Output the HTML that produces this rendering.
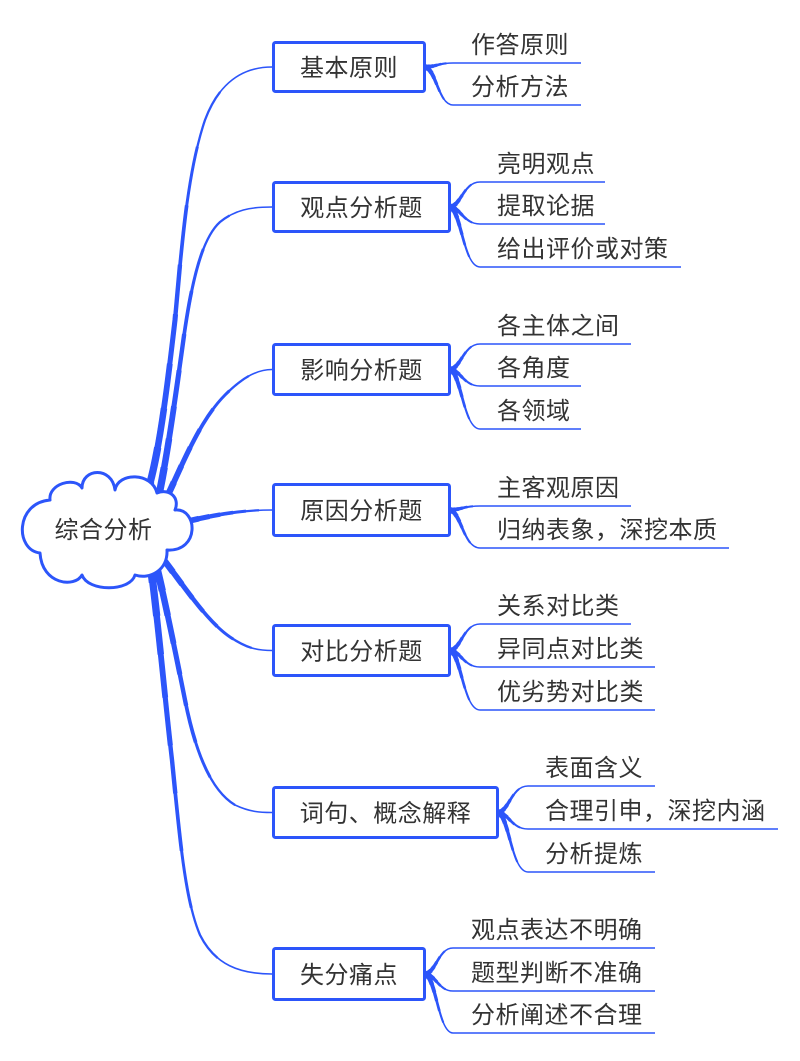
<!DOCTYPE html>
<html><head><meta charset="utf-8">
<style>
html,body{margin:0;padding:0;background:#fff;}
svg{display:block;}
text{font-family:"Liberation Sans","Noto Sans CJK SC",sans-serif;font-size:24px;fill:#333;letter-spacing:0.5px;}
.c path{fill:none;stroke:#2c55fa;stroke-linecap:butt;stroke-linejoin:round;}
.a1{stroke-width:1.6;}
.a2{stroke-width:2.3;stroke-dasharray:88 200;}
.a3{stroke-width:3.0;stroke-dasharray:76 200;}
.a4{stroke-width:3.7;stroke-dasharray:64 200;}
.a5{stroke-width:4.4;stroke-dasharray:52 200;}
.a6{stroke-width:5.1;stroke-dasharray:42 200;}
.a7{stroke-width:5.8;stroke-dasharray:32 200;}
.a8{stroke-width:6.5;stroke-dasharray:23 200;}
.a9{stroke-width:7.3;stroke-dasharray:15 200;}
.a10{stroke-width:8.2;stroke-dasharray:8 200;}
.b1{stroke-width:1.5;}
.b2{stroke-width:2.1;stroke-dasharray:78 200;}
.b3{stroke-width:2.7;stroke-dasharray:60 200;}
.b4{stroke-width:3.3;stroke-dasharray:45 200;}
.b5{stroke-width:3.9;stroke-dasharray:32 200;}
.b6{stroke-width:4.5;stroke-dasharray:20 200;}
.b7{stroke-width:5.2;stroke-dasharray:10 200;}
.ln{stroke-width:1.5;}
.box{fill:#fff;stroke:#2c55fa;stroke-width:3;}
</style></head>
<body>
<svg width="800" height="1061" viewBox="0 0 800 1061" xmlns="http://www.w3.org/2000/svg">
<rect x="0" y="0" width="800" height="1061" fill="#fff"/>
<g class="c">
<!-- R1 -->
<path pathLength="100" class="a1" d="M140,520 L148,490 C160,450 168,380 175,320 C182,240 188,170 205,120 C220,80 245,67 272,67"/>
<path pathLength="100" class="a2" d="M140,520 L148,490 C160,450 168,380 175,320 C182,240 188,170 205,120 C220,80 245,67 272,67"/>
<path pathLength="100" class="a3" d="M140,520 L148,490 C160,450 168,380 175,320 C182,240 188,170 205,120 C220,80 245,67 272,67"/>
<path pathLength="100" class="a4" d="M140,520 L148,490 C160,450 168,380 175,320 C182,240 188,170 205,120 C220,80 245,67 272,67"/>
<path pathLength="100" class="a5" d="M140,520 L148,490 C160,450 168,380 175,320 C182,240 188,170 205,120 C220,80 245,67 272,67"/>
<path pathLength="100" class="a6" d="M140,520 L148,490 C160,450 168,380 175,320 C182,240 188,170 205,120 C220,80 245,67 272,67"/>
<path pathLength="100" class="a7" d="M140,520 L148,490 C160,450 168,380 175,320 C182,240 188,170 205,120 C220,80 245,67 272,67"/>
<path pathLength="100" class="a8" d="M140,520 L148,490 C160,450 168,380 175,320 C182,240 188,170 205,120 C220,80 245,67 272,67"/>
<path pathLength="100" class="a9" d="M140,520 L148,490 C160,450 168,380 175,320 C182,240 188,170 205,120 C220,80 245,67 272,67"/>
<path pathLength="100" class="a10" d="M140,520 L148,490 C160,450 168,380 175,320 C182,240 188,170 205,120 C220,80 245,67 272,67"/>
<!-- R2 -->
<path pathLength="100" class="a1" d="M150,520 L160,490 C168,450 175,400 182,350 C190,290 200,240 220,222 C235,210 250,207 272,207"/>
<path pathLength="100" class="a2" d="M150,520 L160,490 C168,450 175,400 182,350 C190,290 200,240 220,222 C235,210 250,207 272,207"/>
<path pathLength="100" class="a3" d="M150,520 L160,490 C168,450 175,400 182,350 C190,290 200,240 220,222 C235,210 250,207 272,207"/>
<path pathLength="100" class="a4" d="M150,520 L160,490 C168,450 175,400 182,350 C190,290 200,240 220,222 C235,210 250,207 272,207"/>
<path pathLength="100" class="a5" d="M150,520 L160,490 C168,450 175,400 182,350 C190,290 200,240 220,222 C235,210 250,207 272,207"/>
<path pathLength="100" class="a6" d="M150,520 L160,490 C168,450 175,400 182,350 C190,290 200,240 220,222 C235,210 250,207 272,207"/>
<path pathLength="100" class="a7" d="M150,520 L160,490 C168,450 175,400 182,350 C190,290 200,240 220,222 C235,210 250,207 272,207"/>
<path pathLength="100" class="a8" d="M150,520 L160,490 C168,450 175,400 182,350 C190,290 200,240 220,222 C235,210 250,207 272,207"/>
<path pathLength="100" class="a9" d="M150,520 L160,490 C168,450 175,400 182,350 C190,290 200,240 220,222 C235,210 250,207 272,207"/>
<path pathLength="100" class="a10" d="M150,520 L160,490 C168,450 175,400 182,350 C190,290 200,240 220,222 C235,210 250,207 272,207"/>
<!-- R3 -->
<path pathLength="100" class="a1" d="M155,525 L168,495 C182,465 200,420 225,395 C240,380 255,369.5 272,369.5"/>
<path pathLength="100" class="a2" d="M155,525 L168,495 C182,465 200,420 225,395 C240,380 255,369.5 272,369.5"/>
<path pathLength="100" class="a3" d="M155,525 L168,495 C182,465 200,420 225,395 C240,380 255,369.5 272,369.5"/>
<path pathLength="100" class="a4" d="M155,525 L168,495 C182,465 200,420 225,395 C240,380 255,369.5 272,369.5"/>
<path pathLength="100" class="a5" d="M155,525 L168,495 C182,465 200,420 225,395 C240,380 255,369.5 272,369.5"/>
<path pathLength="100" class="a6" d="M155,525 L168,495 C182,465 200,420 225,395 C240,380 255,369.5 272,369.5"/>
<path pathLength="100" class="a7" d="M155,525 L168,495 C182,465 200,420 225,395 C240,380 255,369.5 272,369.5"/>
<path pathLength="100" class="a8" d="M155,525 L168,495 C182,465 200,420 225,395 C240,380 255,369.5 272,369.5"/>
<path pathLength="100" class="a9" d="M155,525 L168,495 C182,465 200,420 225,395 C240,380 255,369.5 272,369.5"/>
<path pathLength="100" class="a10" d="M155,525 L168,495 C182,465 200,420 225,395 C240,380 255,369.5 272,369.5"/>
<!-- R4 -->
<path pathLength="100" class="a1" d="M165,527 C210,515 240,510 272,510"/>
<path pathLength="100" class="a2" d="M165,527 C210,515 240,510 272,510"/>
<path pathLength="100" class="a3" d="M165,527 C210,515 240,510 272,510"/>
<path pathLength="100" class="a4" d="M165,527 C210,515 240,510 272,510"/>
<path pathLength="100" class="a5" d="M165,527 C210,515 240,510 272,510"/>
<path pathLength="100" class="a6" d="M165,527 C210,515 240,510 272,510"/>
<path pathLength="100" class="a7" d="M165,527 C210,515 240,510 272,510"/>
<path pathLength="100" class="a8" d="M165,527 C210,515 240,510 272,510"/>
<!-- R5 -->
<path pathLength="100" class="a1" d="M150,540 L160,555 C180,580 205,620 230,637 C245,647 255,650.5 272,650.5"/>
<path pathLength="100" class="a2" d="M150,540 L160,555 C180,580 205,620 230,637 C245,647 255,650.5 272,650.5"/>
<path pathLength="100" class="a3" d="M150,540 L160,555 C180,580 205,620 230,637 C245,647 255,650.5 272,650.5"/>
<path pathLength="100" class="a4" d="M150,540 L160,555 C180,580 205,620 230,637 C245,647 255,650.5 272,650.5"/>
<path pathLength="100" class="a5" d="M150,540 L160,555 C180,580 205,620 230,637 C245,647 255,650.5 272,650.5"/>
<path pathLength="100" class="a6" d="M150,540 L160,555 C180,580 205,620 230,637 C245,647 255,650.5 272,650.5"/>
<path pathLength="100" class="a7" d="M150,540 L160,555 C180,580 205,620 230,637 C245,647 255,650.5 272,650.5"/>
<path pathLength="100" class="a8" d="M150,540 L160,555 C180,580 205,620 230,637 C245,647 255,650.5 272,650.5"/>
<path pathLength="100" class="a9" d="M150,540 L160,555 C180,580 205,620 230,637 C245,647 255,650.5 272,650.5"/>
<path pathLength="100" class="a10" d="M150,540 L160,555 C180,580 205,620 230,637 C245,647 255,650.5 272,650.5"/>
<!-- R6 -->
<path pathLength="100" class="a1" d="M150,545 L155,560 C165,600 175,650 185,700 C195,750 210,790 235,805 C250,812 260,812.5 272,812.5"/>
<path pathLength="100" class="a2" d="M150,545 L155,560 C165,600 175,650 185,700 C195,750 210,790 235,805 C250,812 260,812.5 272,812.5"/>
<path pathLength="100" class="a3" d="M150,545 L155,560 C165,600 175,650 185,700 C195,750 210,790 235,805 C250,812 260,812.5 272,812.5"/>
<path pathLength="100" class="a4" d="M150,545 L155,560 C165,600 175,650 185,700 C195,750 210,790 235,805 C250,812 260,812.5 272,812.5"/>
<path pathLength="100" class="a5" d="M150,545 L155,560 C165,600 175,650 185,700 C195,750 210,790 235,805 C250,812 260,812.5 272,812.5"/>
<path pathLength="100" class="a6" d="M150,545 L155,560 C165,600 175,650 185,700 C195,750 210,790 235,805 C250,812 260,812.5 272,812.5"/>
<path pathLength="100" class="a7" d="M150,545 L155,560 C165,600 175,650 185,700 C195,750 210,790 235,805 C250,812 260,812.5 272,812.5"/>
<path pathLength="100" class="a8" d="M150,545 L155,560 C165,600 175,650 185,700 C195,750 210,790 235,805 C250,812 260,812.5 272,812.5"/>
<path pathLength="100" class="a9" d="M150,545 L155,560 C165,600 175,650 185,700 C195,750 210,790 235,805 C250,812 260,812.5 272,812.5"/>
<path pathLength="100" class="a10" d="M150,545 L155,560 C165,600 175,650 185,700 C195,750 210,790 235,805 C250,812 260,812.5 272,812.5"/>
<!-- R7 -->
<path pathLength="100" class="a1" d="M145,545 L150,560 C158,620 165,700 172,760 C180,840 185,900 200,935 C215,965 240,974 272,974"/>
<path pathLength="100" class="a2" d="M145,545 L150,560 C158,620 165,700 172,760 C180,840 185,900 200,935 C215,965 240,974 272,974"/>
<path pathLength="100" class="a3" d="M145,545 L150,560 C158,620 165,700 172,760 C180,840 185,900 200,935 C215,965 240,974 272,974"/>
<path pathLength="100" class="a4" d="M145,545 L150,560 C158,620 165,700 172,760 C180,840 185,900 200,935 C215,965 240,974 272,974"/>
<path pathLength="100" class="a5" d="M145,545 L150,560 C158,620 165,700 172,760 C180,840 185,900 200,935 C215,965 240,974 272,974"/>
<path pathLength="100" class="a6" d="M145,545 L150,560 C158,620 165,700 172,760 C180,840 185,900 200,935 C215,965 240,974 272,974"/>
<path pathLength="100" class="a7" d="M145,545 L150,560 C158,620 165,700 172,760 C180,840 185,900 200,935 C215,965 240,974 272,974"/>
<path pathLength="100" class="a8" d="M145,545 L150,560 C158,620 165,700 172,760 C180,840 185,900 200,935 C215,965 240,974 272,974"/>
<path pathLength="100" class="a9" d="M145,545 L150,560 C158,620 165,700 172,760 C180,840 185,900 200,935 C215,965 240,974 272,974"/>
<path pathLength="100" class="a10" d="M145,545 L150,560 C158,620 165,700 172,760 C180,840 185,900 200,935 C215,965 240,974 272,974"/>

<!-- node 1 children -->
<path pathLength="100" class="b1" d="M424,67 C436,67 438,63 453,63"/>
<path pathLength="100" class="b2" d="M424,67 C436,67 438,63 453,63"/>
<path pathLength="100" class="b3" d="M424,67 C436,67 438,63 453,63"/>
<path pathLength="100" class="b4" d="M424,67 C436,67 438,63 453,63"/>
<path pathLength="100" class="b5" d="M424,67 C436,67 438,63 453,63"/>
<path pathLength="100" class="b6" d="M424,67 C436,67 438,63 453,63"/>
<path pathLength="100" class="b7" d="M424,67 C436,67 438,63 453,63"/>
<path pathLength="100" class="b1" d="M424,67 C436,67 438,105 453,105"/>
<path pathLength="100" class="b2" d="M424,67 C436,67 438,105 453,105"/>
<path pathLength="100" class="b3" d="M424,67 C436,67 438,105 453,105"/>
<path pathLength="100" class="b4" d="M424,67 C436,67 438,105 453,105"/>
<path pathLength="100" class="b5" d="M424,67 C436,67 438,105 453,105"/>
<path pathLength="100" class="b6" d="M424,67 C436,67 438,105 453,105"/>
<path pathLength="100" class="b7" d="M424,67 C436,67 438,105 453,105"/>
<path class="ln" d="M453,63 H581 M453,105 H581"/>

<!-- node 2 children -->
<path pathLength="100" class="b1" d="M449,207 C461,207 463,182 480,182"/>
<path pathLength="100" class="b2" d="M449,207 C461,207 463,182 480,182"/>
<path pathLength="100" class="b3" d="M449,207 C461,207 463,182 480,182"/>
<path pathLength="100" class="b4" d="M449,207 C461,207 463,182 480,182"/>
<path pathLength="100" class="b5" d="M449,207 C461,207 463,182 480,182"/>
<path pathLength="100" class="b6" d="M449,207 C461,207 463,182 480,182"/>
<path pathLength="100" class="b7" d="M449,207 C461,207 463,182 480,182"/>
<path pathLength="100" class="b1" d="M449,207 C461,207 463,224 480,224"/>
<path pathLength="100" class="b2" d="M449,207 C461,207 463,224 480,224"/>
<path pathLength="100" class="b3" d="M449,207 C461,207 463,224 480,224"/>
<path pathLength="100" class="b4" d="M449,207 C461,207 463,224 480,224"/>
<path pathLength="100" class="b5" d="M449,207 C461,207 463,224 480,224"/>
<path pathLength="100" class="b6" d="M449,207 C461,207 463,224 480,224"/>
<path pathLength="100" class="b7" d="M449,207 C461,207 463,224 480,224"/>
<path pathLength="100" class="b1" d="M449,207 C461,207 463,267 480,267"/>
<path pathLength="100" class="b2" d="M449,207 C461,207 463,267 480,267"/>
<path pathLength="100" class="b3" d="M449,207 C461,207 463,267 480,267"/>
<path pathLength="100" class="b4" d="M449,207 C461,207 463,267 480,267"/>
<path pathLength="100" class="b5" d="M449,207 C461,207 463,267 480,267"/>
<path pathLength="100" class="b6" d="M449,207 C461,207 463,267 480,267"/>
<path pathLength="100" class="b7" d="M449,207 C461,207 463,267 480,267"/>
<path class="ln" d="M480,182 H605 M480,224 H605 M480,267 H681"/>

<!-- node 3 children -->
<path pathLength="100" class="b1" d="M449,369.5 C461,369.5 463,344 480,344"/>
<path pathLength="100" class="b2" d="M449,369.5 C461,369.5 463,344 480,344"/>
<path pathLength="100" class="b3" d="M449,369.5 C461,369.5 463,344 480,344"/>
<path pathLength="100" class="b4" d="M449,369.5 C461,369.5 463,344 480,344"/>
<path pathLength="100" class="b5" d="M449,369.5 C461,369.5 463,344 480,344"/>
<path pathLength="100" class="b6" d="M449,369.5 C461,369.5 463,344 480,344"/>
<path pathLength="100" class="b7" d="M449,369.5 C461,369.5 463,344 480,344"/>
<path pathLength="100" class="b1" d="M449,369.5 C461,369.5 463,386 480,386"/>
<path pathLength="100" class="b2" d="M449,369.5 C461,369.5 463,386 480,386"/>
<path pathLength="100" class="b3" d="M449,369.5 C461,369.5 463,386 480,386"/>
<path pathLength="100" class="b4" d="M449,369.5 C461,369.5 463,386 480,386"/>
<path pathLength="100" class="b5" d="M449,369.5 C461,369.5 463,386 480,386"/>
<path pathLength="100" class="b6" d="M449,369.5 C461,369.5 463,386 480,386"/>
<path pathLength="100" class="b7" d="M449,369.5 C461,369.5 463,386 480,386"/>
<path pathLength="100" class="b1" d="M449,369.5 C461,369.5 463,429 480,429"/>
<path pathLength="100" class="b2" d="M449,369.5 C461,369.5 463,429 480,429"/>
<path pathLength="100" class="b3" d="M449,369.5 C461,369.5 463,429 480,429"/>
<path pathLength="100" class="b4" d="M449,369.5 C461,369.5 463,429 480,429"/>
<path pathLength="100" class="b5" d="M449,369.5 C461,369.5 463,429 480,429"/>
<path pathLength="100" class="b6" d="M449,369.5 C461,369.5 463,429 480,429"/>
<path pathLength="100" class="b7" d="M449,369.5 C461,369.5 463,429 480,429"/>
<path class="ln" d="M480,344 H631 M480,386 H581 M480,429 H581"/>

<!-- node 4 children -->
<path pathLength="100" class="b1" d="M449,510 C461,510 463,506 480,506"/>
<path pathLength="100" class="b2" d="M449,510 C461,510 463,506 480,506"/>
<path pathLength="100" class="b3" d="M449,510 C461,510 463,506 480,506"/>
<path pathLength="100" class="b4" d="M449,510 C461,510 463,506 480,506"/>
<path pathLength="100" class="b5" d="M449,510 C461,510 463,506 480,506"/>
<path pathLength="100" class="b6" d="M449,510 C461,510 463,506 480,506"/>
<path pathLength="100" class="b7" d="M449,510 C461,510 463,506 480,506"/>
<path pathLength="100" class="b1" d="M449,510 C461,510 463,548 480,548"/>
<path pathLength="100" class="b2" d="M449,510 C461,510 463,548 480,548"/>
<path pathLength="100" class="b3" d="M449,510 C461,510 463,548 480,548"/>
<path pathLength="100" class="b4" d="M449,510 C461,510 463,548 480,548"/>
<path pathLength="100" class="b5" d="M449,510 C461,510 463,548 480,548"/>
<path pathLength="100" class="b6" d="M449,510 C461,510 463,548 480,548"/>
<path pathLength="100" class="b7" d="M449,510 C461,510 463,548 480,548"/>
<path class="ln" d="M480,506 H631 M480,548 H729"/>

<!-- node 5 children -->
<path pathLength="100" class="b1" d="M449,650.5 C461,650.5 463,624 480,624"/>
<path pathLength="100" class="b2" d="M449,650.5 C461,650.5 463,624 480,624"/>
<path pathLength="100" class="b3" d="M449,650.5 C461,650.5 463,624 480,624"/>
<path pathLength="100" class="b4" d="M449,650.5 C461,650.5 463,624 480,624"/>
<path pathLength="100" class="b5" d="M449,650.5 C461,650.5 463,624 480,624"/>
<path pathLength="100" class="b6" d="M449,650.5 C461,650.5 463,624 480,624"/>
<path pathLength="100" class="b7" d="M449,650.5 C461,650.5 463,624 480,624"/>
<path pathLength="100" class="b1" d="M449,650.5 C461,650.5 463,667 480,667"/>
<path pathLength="100" class="b2" d="M449,650.5 C461,650.5 463,667 480,667"/>
<path pathLength="100" class="b3" d="M449,650.5 C461,650.5 463,667 480,667"/>
<path pathLength="100" class="b4" d="M449,650.5 C461,650.5 463,667 480,667"/>
<path pathLength="100" class="b5" d="M449,650.5 C461,650.5 463,667 480,667"/>
<path pathLength="100" class="b6" d="M449,650.5 C461,650.5 463,667 480,667"/>
<path pathLength="100" class="b7" d="M449,650.5 C461,650.5 463,667 480,667"/>
<path pathLength="100" class="b1" d="M449,650.5 C461,650.5 463,710 480,710"/>
<path pathLength="100" class="b2" d="M449,650.5 C461,650.5 463,710 480,710"/>
<path pathLength="100" class="b3" d="M449,650.5 C461,650.5 463,710 480,710"/>
<path pathLength="100" class="b4" d="M449,650.5 C461,650.5 463,710 480,710"/>
<path pathLength="100" class="b5" d="M449,650.5 C461,650.5 463,710 480,710"/>
<path pathLength="100" class="b6" d="M449,650.5 C461,650.5 463,710 480,710"/>
<path pathLength="100" class="b7" d="M449,650.5 C461,650.5 463,710 480,710"/>
<path class="ln" d="M480,624 H631 M480,667 H655 M480,710 H655"/>

<!-- node 6 children -->
<path pathLength="100" class="b1" d="M497,812.5 C509,812.5 511,786 528,786"/>
<path pathLength="100" class="b2" d="M497,812.5 C509,812.5 511,786 528,786"/>
<path pathLength="100" class="b3" d="M497,812.5 C509,812.5 511,786 528,786"/>
<path pathLength="100" class="b4" d="M497,812.5 C509,812.5 511,786 528,786"/>
<path pathLength="100" class="b5" d="M497,812.5 C509,812.5 511,786 528,786"/>
<path pathLength="100" class="b6" d="M497,812.5 C509,812.5 511,786 528,786"/>
<path pathLength="100" class="b7" d="M497,812.5 C509,812.5 511,786 528,786"/>
<path pathLength="100" class="b1" d="M497,812.5 C509,812.5 511,829 528,829"/>
<path pathLength="100" class="b2" d="M497,812.5 C509,812.5 511,829 528,829"/>
<path pathLength="100" class="b3" d="M497,812.5 C509,812.5 511,829 528,829"/>
<path pathLength="100" class="b4" d="M497,812.5 C509,812.5 511,829 528,829"/>
<path pathLength="100" class="b5" d="M497,812.5 C509,812.5 511,829 528,829"/>
<path pathLength="100" class="b6" d="M497,812.5 C509,812.5 511,829 528,829"/>
<path pathLength="100" class="b7" d="M497,812.5 C509,812.5 511,829 528,829"/>
<path pathLength="100" class="b1" d="M497,812.5 C509,812.5 511,872 528,872"/>
<path pathLength="100" class="b2" d="M497,812.5 C509,812.5 511,872 528,872"/>
<path pathLength="100" class="b3" d="M497,812.5 C509,812.5 511,872 528,872"/>
<path pathLength="100" class="b4" d="M497,812.5 C509,812.5 511,872 528,872"/>
<path pathLength="100" class="b5" d="M497,812.5 C509,812.5 511,872 528,872"/>
<path pathLength="100" class="b6" d="M497,812.5 C509,812.5 511,872 528,872"/>
<path pathLength="100" class="b7" d="M497,812.5 C509,812.5 511,872 528,872"/>
<path class="ln" d="M528,786 H655 M528,829 H778 M528,872 H655"/>

<!-- node 7 children -->
<path pathLength="100" class="b1" d="M424,974 C436,974 438,948 453,948"/>
<path pathLength="100" class="b2" d="M424,974 C436,974 438,948 453,948"/>
<path pathLength="100" class="b3" d="M424,974 C436,974 438,948 453,948"/>
<path pathLength="100" class="b4" d="M424,974 C436,974 438,948 453,948"/>
<path pathLength="100" class="b5" d="M424,974 C436,974 438,948 453,948"/>
<path pathLength="100" class="b6" d="M424,974 C436,974 438,948 453,948"/>
<path pathLength="100" class="b7" d="M424,974 C436,974 438,948 453,948"/>
<path pathLength="100" class="b1" d="M424,974 C436,974 438,991 453,991"/>
<path pathLength="100" class="b2" d="M424,974 C436,974 438,991 453,991"/>
<path pathLength="100" class="b3" d="M424,974 C436,974 438,991 453,991"/>
<path pathLength="100" class="b4" d="M424,974 C436,974 438,991 453,991"/>
<path pathLength="100" class="b5" d="M424,974 C436,974 438,991 453,991"/>
<path pathLength="100" class="b6" d="M424,974 C436,974 438,991 453,991"/>
<path pathLength="100" class="b7" d="M424,974 C436,974 438,991 453,991"/>
<path pathLength="100" class="b1" d="M424,974 C436,974 438,1033 453,1033"/>
<path pathLength="100" class="b2" d="M424,974 C436,974 438,1033 453,1033"/>
<path pathLength="100" class="b3" d="M424,974 C436,974 438,1033 453,1033"/>
<path pathLength="100" class="b4" d="M424,974 C436,974 438,1033 453,1033"/>
<path pathLength="100" class="b5" d="M424,974 C436,974 438,1033 453,1033"/>
<path pathLength="100" class="b6" d="M424,974 C436,974 438,1033 453,1033"/>
<path pathLength="100" class="b7" d="M424,974 C436,974 438,1033 453,1033"/>
<path class="ln" d="M453,948 H655 M453,991 H655 M453,1033 H655"/>
</g>

<!-- root cloud -->
<path d="M40,553 C15,550 15,503 50,500 C48,484 75,476 82,488 C82,468 112,466 115,490 C118,472 152,472 157,493 C170,488 180,498 175,510 C198,508 200,552 167,550 C168,570 150,580 135,575 C130,592 88,592 82,575 C75,588 42,585 40,553 Z" fill="#fff" stroke="#2c55fa" stroke-width="3" stroke-linejoin="round"/>
<text x="103.5" y="538" text-anchor="middle">综合分析</text>

<!-- boxes -->
<rect class="box" x="273.5" y="42.5" width="151" height="49" rx="2"/>
<rect class="box" x="273.5" y="182.5" width="176" height="49" rx="2"/>
<rect class="box" x="273.5" y="344.5" width="176" height="50" rx="2"/>
<rect class="box" x="273.5" y="484.5" width="176" height="51" rx="2"/>
<rect class="box" x="273.5" y="625.5" width="176" height="50" rx="2"/>
<rect class="box" x="273.5" y="787.5" width="224" height="50" rx="2"/>
<rect class="box" x="273.5" y="948.5" width="151" height="51" rx="2"/>

<text x="349" y="76" text-anchor="middle">基本原则</text>
<text x="361.5" y="216" text-anchor="middle">观点分析题</text>
<text x="361.5" y="378.5" text-anchor="middle">影响分析题</text>
<text x="361.5" y="519" text-anchor="middle">原因分析题</text>
<text x="361.5" y="659.5" text-anchor="middle">对比分析题</text>
<text x="385.5" y="821.5" text-anchor="middle">词句、概念解释</text>
<text x="349" y="983" text-anchor="middle">失分痛点</text>

<!-- child labels -->
<text x="471" y="53">作答原则</text>
<text x="471" y="95">分析方法</text>

<text x="497" y="172">亮明观点</text>
<text x="497" y="214">提取论据</text>
<text x="497" y="257">给出评价或对策</text>

<text x="497" y="334">各主体之间</text>
<text x="497" y="376">各角度</text>
<text x="497" y="419">各领域</text>

<text x="497" y="496">主客观原因</text>
<text x="497" y="538">归纳表象，深挖本质</text>

<text x="497" y="614">关系对比类</text>
<text x="497" y="657">异同点对比类</text>
<text x="497" y="700">优劣势对比类</text>

<text x="545" y="776">表面含义</text>
<text x="545" y="819">合理引申，深挖内涵</text>
<text x="545" y="862">分析提炼</text>

<text x="471" y="938">观点表达不明确</text>
<text x="471" y="981">题型判断不准确</text>
<text x="471" y="1023">分析阐述不合理</text>
</svg>
</body></html>
